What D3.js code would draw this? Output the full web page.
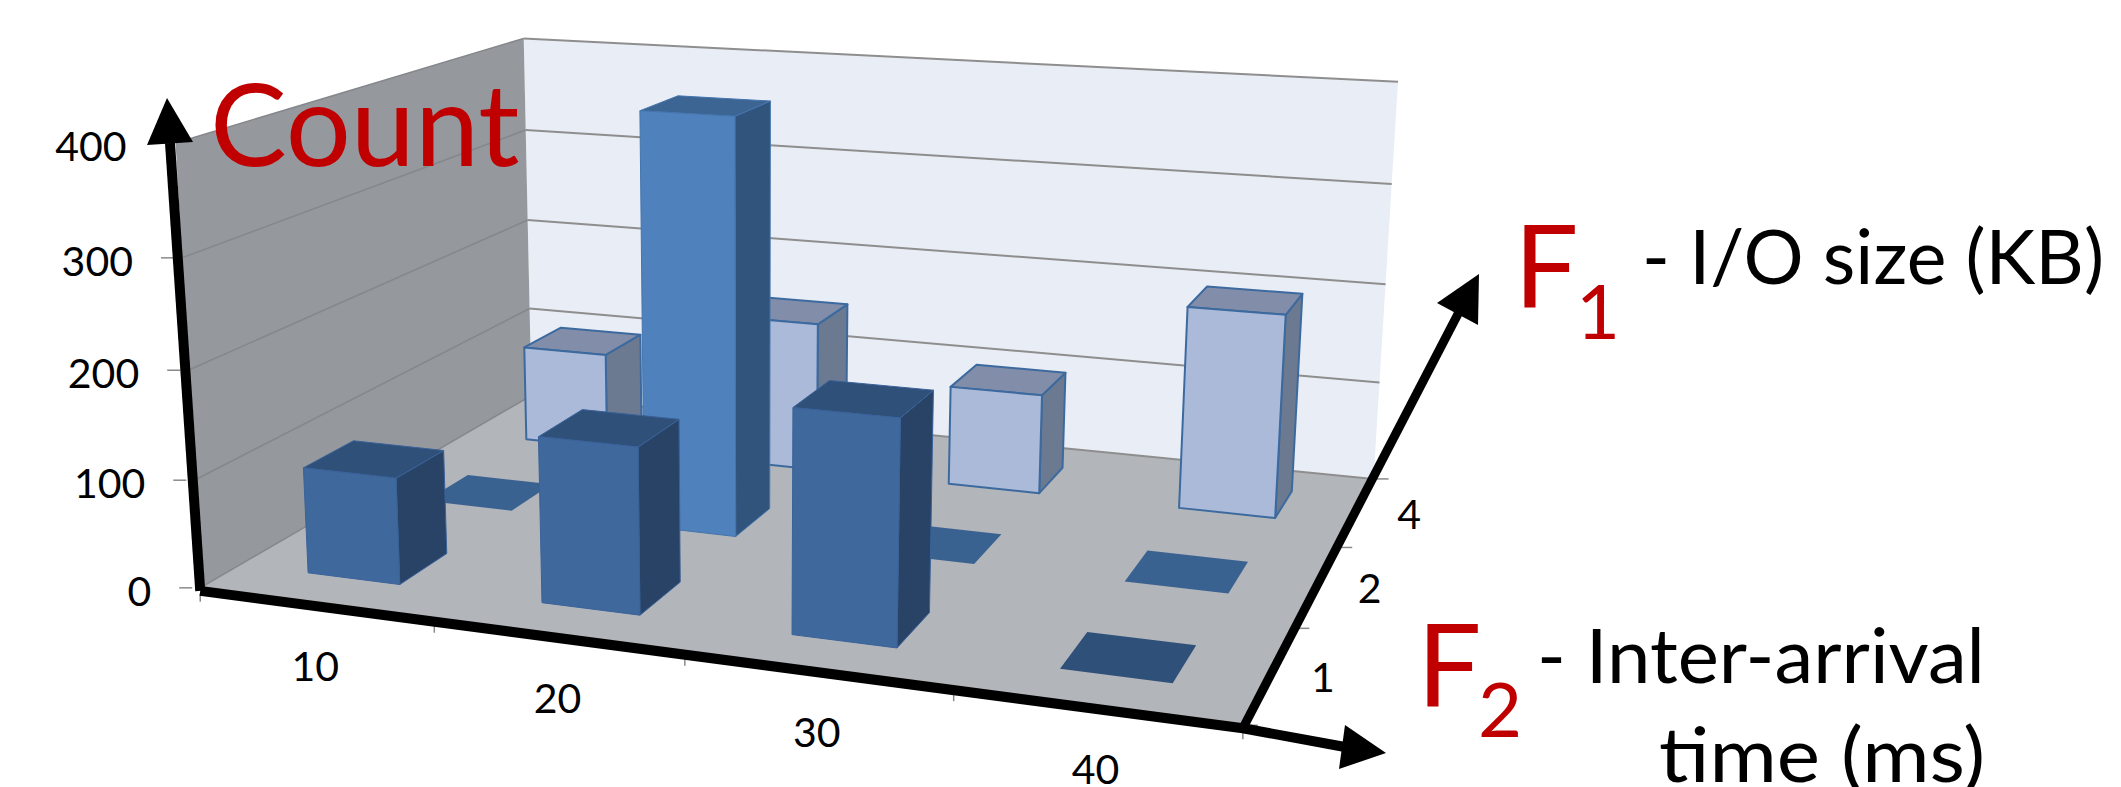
<!DOCTYPE html>
<html>
<head>
<meta charset="utf-8">
<style>
  html, body { margin: 0; padding: 0; background: #fff; }
  svg { display: block; }
  text { font-family: Lato, "Open Sans", sans-serif; }
</style>
<script src="https://cdn.jsdelivr.net/npm/d3@7"></script>
</head>
<body>
<svg id="chart" width="2121" height="787"></svg>
<script>
// Categories and tick labels
const interArrivalMs = ["10", "20", "30", "40"];
const ioSizeKb = ["1", "2", "4"];
const countTicks = [0, 100, 200, 300, 400];

// Bar counts per I/O size, listed by inter-arrival time
const countsSize1 = [99, 151, 199, 0];
const countsSize2 = [0, 398, 0, 0];
const countsSize4 = [100, 152, 100, 200];

// Calibration of the oblique view: [along, depth, height] -> screen position
const viewAnchors = [
  [0, 0, 0, 199, 590], [1, 0, 0, 1242, 727], [1, 1, 0, 1373, 477], [0, 1, 0, 531, 397],
  [0, 0, .25, 196, 478], [0, 0, .5, 189, 369], [0, 0, .75, 183, 257.5], [0, 0, 1, 174, 143],
  [0, 1, .25, 530, 308], [0, 1, .5, 528, 220], [0, 1, .75, 525.5, 130], [0, 1, 1, 523, 38.7],
  [1, 1, .25, 1380, 382], [1, 1, .5, 1386, 284], [1, 1, .75, 1392, 184], [1, 1, 1, 1398, 83.3]
];

// Least-squares fit of an 11-parameter projective camera
function fitCamera(anchors) {
  const rows = [], rhs = [];
  anchors.forEach(([u, v, w, px, py]) => {
    const x = px / 1000, y = py / 1000;
    rows.push([u, v, w, 1, 0, 0, 0, 0, -x * u, -x * v, -x * w]); rhs.push(x);
    rows.push([0, 0, 0, 0, u, v, w, 1, -y * u, -y * v, -y * w]); rhs.push(y);
  });
  const n = 11;
  const m = d3.range(n).map(i => d3.range(n + 1).map(j =>
    j < n ? d3.sum(rows, r => r[i] * r[j]) : d3.sum(rows, (r, k) => r[i] * rhs[k])));
  for (let c = 0; c < n; c++) {
    let best = c;
    for (let r = c + 1; r < n; r++) if (Math.abs(m[r][c]) > Math.abs(m[best][c])) best = r;
    [m[c], m[best]] = [m[best], m[c]];
    for (let r = 0; r < n; r++) {
      if (r === c) continue;
      const f = m[r][c] / m[c][c];
      for (let k = c; k <= n; k++) m[r][k] -= f * m[c][k];
    }
  }
  return m.map((row, i) => row[n] / row[i]);
}
const cam = fitCamera(viewAnchors);
function project(u, v, w) {
  const d = cam[8] * u + cam[9] * v + cam[10] * w + 1;
  return [1000 * (cam[0] * u + cam[1] * v + cam[2] * w + cam[3]) / d,
          1000 * (cam[4] * u + cam[5] * v + cam[6] * w + cam[7]) / d];
}

// Scales: each bar takes 40% of its cell along both floor directions
const alongScale = d3.scaleBand().domain(interArrivalMs).range([0, 1]).paddingInner(0.6).paddingOuter(0.3);
const depthScale = d3.scaleBand().domain(ioSizeKb).range([0, 1]).paddingInner(0.6).paddingOuter(0.3);
const heightScale = d3.scaleLinear().domain([0, 400]).range([0, 1]);

const polyLine = d3.line();
const svg = d3.select("#chart");
const poly = (g, pts, fill, stroke, sw) => g.append("path")
  .attr("d", polyLine(pts) + "Z").attr("fill", fill)
  .attr("stroke", stroke || "none").attr("stroke-width", sw || 0).attr("stroke-linejoin", "round");

// Walls and floor
const walls = svg.append("g");
poly(walls, [project(0, 1, 0), project(1, 1, 0), project(1, 1, 1), project(0, 1, 1)], "#e9edf6");
poly(walls, [project(0, 0, 0), project(0, 1, 0), project(0, 1, 1), project(0, 0, 1)], "#95989c");
poly(walls, [project(0, 0, 0), project(1, 0, 0), project(1, 1, 0), project(0, 1, 0)], "#b2b5ba");

// Gridlines run along the side wall and the back wall
countTicks.forEach(t => {
  const w = heightScale(t);
  walls.append("path").attr("d", polyLine([project(0, 0, w), project(0, 1, w)]))
    .attr("fill", "none").attr("stroke", "#84878b").attr("stroke-width", 1.5);
  walls.append("path").attr("d", polyLine([project(0, 1, w), project(1, 1, w)]))
    .attr("fill", "none").attr("stroke", "#8e8e8e").attr("stroke-width", 2);
});

// Bars, painted from the back row forwards and left to right
const rows = [
  { size: "4", counts: countsSize4, front: "#abbad8", side: "#6b7a90", top: "#828ea9", edge: "#3d6a9e", flat: "#3a6291" },
  { size: "2", counts: countsSize2, front: "#4f81bd", side: "#31547c", top: "#3d6594", edge: "#4475ad", flat: "#3a6291" },
  { size: "1", counts: countsSize1, front: "#3f689c", side: "#284365", top: "#2f5078", edge: "#3a629a", flat: "#2f5078" }
];
const bars = svg.append("g");
rows.forEach(row => {
  const v0 = depthScale(row.size), v1 = v0 + depthScale.bandwidth();
  interArrivalMs.forEach((cat, i) => {
    const u0 = alongScale(cat), u1 = u0 + alongScale.bandwidth();
    const w = heightScale(row.counts[i]);
    const sw = row.size === "4" ? 2 : 1;
    if (row.counts[i] === 0) {
      poly(bars, [project(u0, v0, 0), project(u1, v0, 0), project(u1, v1, 0), project(u0, v1, 0)], row.flat);
      return;
    }
    poly(bars, [project(u1, v0, 0), project(u1, v1, 0), project(u1, v1, w), project(u1, v0, w)], row.side, row.edge, sw);
    poly(bars, [project(u0, v0, w), project(u1, v0, w), project(u1, v1, w), project(u0, v1, w)], row.top, row.edge, sw);
    poly(bars, [project(u0, v0, 0), project(u1, v0, 0), project(u1, v0, w), project(u0, v0, w)], row.front, row.edge, sw);
  });
});

// Tick marks and labels on the three axes
const ticks = svg.append("g").attr("stroke", "#8a8a8a").attr("stroke-width", 1.5);
const labels = svg.append("g").attr("font-size", 41).attr("fill", "#000");

countTicks.forEach(t => {
  const [x, y] = project(0, 0, heightScale(t));
  ticks.append("line").attr("x1", x - 21).attr("x2", x - 8).attr("y1", y).attr("y2", y);
  labels.append("text").attr("x", x - 49).attr("y", y + 18).attr("text-anchor", "end").text(t);
});
d3.range(interArrivalMs.length + 1).forEach(i => {
  const [x, y] = project(i / interArrivalMs.length, 0, 0);
  ticks.append("line").attr("x1", x).attr("x2", x).attr("y1", y + 6).attr("y2", y + 14);
});
interArrivalMs.forEach(cat => {
  const [x, y] = project(alongScale(cat) + alongScale.bandwidth() / 2, 0, 0);
  labels.append("text").attr("x", x).attr("y", y + 78).attr("text-anchor", "middle").text(cat);
});
d3.range(ioSizeKb.length + 1).forEach(i => {
  const [x, y] = project(1, i / ioSizeKb.length, 0);
  ticks.append("line").attr("x1", x).attr("x2", x + 15).attr("y1", y).attr("y2", y);
});
ioSizeKb.forEach(size => {
  const [x, y] = project(1, depthScale(size) + depthScale.bandwidth() / 2, 0);
  labels.append("text").attr("x", x + 53).attr("y", y + 17).attr("text-anchor", "middle").text(size);
});

// Heavy black axis arrows
const origin = project(0, 0, 0), corner = project(1, 0, 0);
const arrows = svg.append("g");
const shaft = (pts, width) => arrows.append("path").attr("d", polyLine(pts))
  .attr("fill", "none").attr("stroke", "#000").attr("stroke-width", width).attr("stroke-linejoin", "miter");
shaft([[170, 143], [origin[0], origin[1] + 3]], 10);
shaft([[origin[0], origin[1] + 3], [corner[0], corner[1] + 3], [1345, 747]], 10);
shaft([[corner[0], corner[1] + 3], [1459, 312]], 9);
arrows.append("path").attr("d", polyLine([[167, 98], [147, 145], [193, 142]]) + "Z");
arrows.append("path").attr("d", polyLine([[1386, 753], [1345, 725], [1339, 769]]) + "Z");
arrows.append("path").attr("d", polyLine([[1479, 274], [1437, 303], [1478, 325]]) + "Z");

// Axis titles
const red = "#c00000";
const note = (x, y, size, fill, str, span) => {
  const t = svg.append("text")
    .attr("x", x).attr("y", y).attr("font-size", size).attr("fill", fill).text(str);
  if (span) t.attr("textLength", span).attr("lengthAdjust", "spacingAndGlyphs");
};
note(210, 166, 115, red, "Count");
note(1514, 307, 114, red, "F");
note(1576, 339, 76, red, "1");
note(1642, 284, 75, "#000", "- I/O size (KB)", 462);
note(1417, 706, 114, red, "F");
note(1478, 737, 76, red, "2");
note(1537, 683, 75, "#000", "- Inter-arrival", 448);
note(1659, 782, 75, "#000", "time (ms)", 326);
</script>
</body>
</html>
